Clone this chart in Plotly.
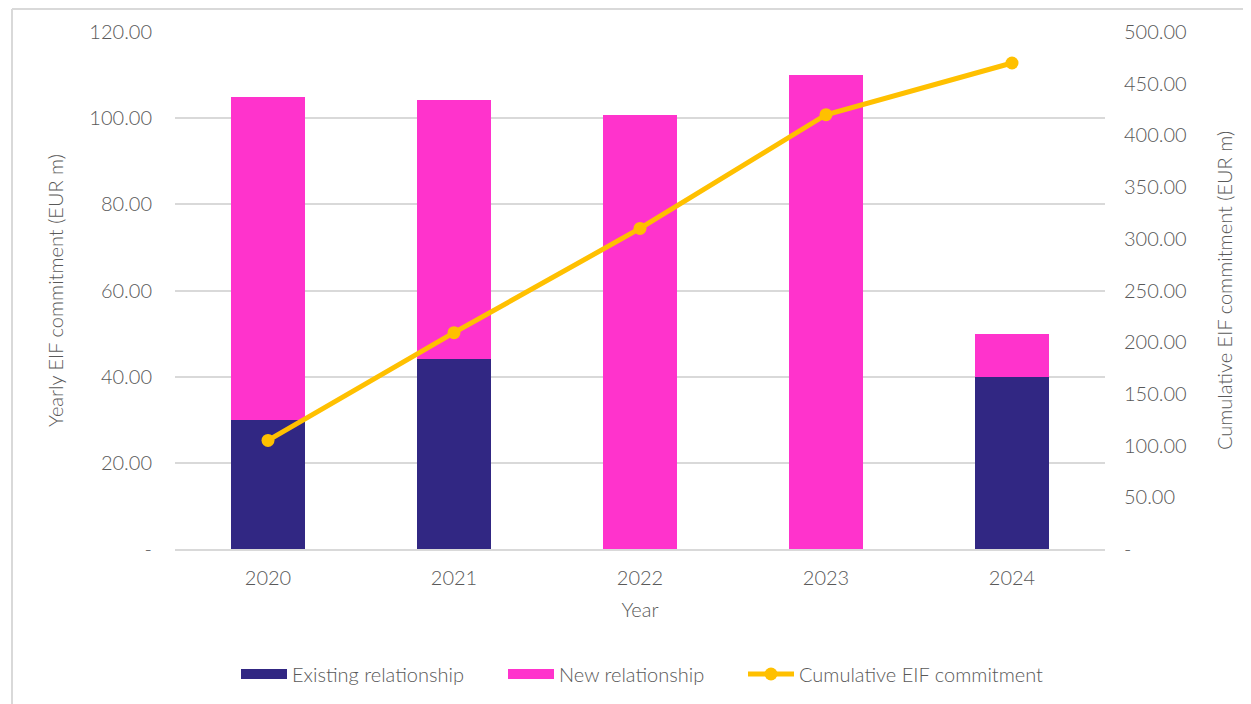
import plotly.graph_objects as go

years = ["2020", "2021", "2022", "2023", "2024"]
existing = [30.0, 44.2, 0.0, 0.0, 40.0]
new_rel = [75.0, 60.0, 100.8, 110.0, 10.0]
cumulative = [105.0, 209.2, 310.0, 420.0, 470.0]

left_ticks = [0, 20, 40, 60, 80, 100, 120]
left_text = ["-", "20.00", "40.00", "60.00", "80.00", "100.00", "120.00"]
right_ticks = [0, 50, 100, 150, 200, 250, 300, 350, 400, 450, 500]
right_text = ["-", "50.00", "100.00", "150.00", "200.00", "250.00", "300.00",
              "350.00", "400.00", "450.00", "500.00"]

FONT = "Lato"
GREY = "#595959"
NAVY = "#312783"
PINK = "#FF33CC"
GOLD = "#FFC000"
FS = 20

OFF = 8  # body margin of the page
W, H = 1251 - OFF, 704 - OFF
# plot area in page pixels: x 175..1105, y 32..550
L, T = 175 - OFF, 32 - OFF
R = W - (1105 - OFF)
B = H - (550 - OFF)
pw, ph = W - L - R, H - T - B

def px(x):
    return (x - OFF - L) / pw

def py(y):
    return 1 - (y - OFF - T) / ph

fig = go.Figure()
fig.add_trace(go.Bar(x=years, y=existing, name="Existing relationship",
                     marker=dict(color=NAVY, line=dict(width=0)), width=0.4,
                     showlegend=False))
fig.add_trace(go.Bar(x=years, y=new_rel, name="New relationship",
                     marker=dict(color=PINK, line=dict(width=0)), width=0.4,
                     showlegend=False))
# legend entries with wide rectangular swatches
fig.add_trace(go.Scatter(x=[None], y=[None], mode="lines", name="Existing relationship",
                         line=dict(color=NAVY, width=13), legend="legend"))
fig.add_trace(go.Scatter(x=[None], y=[None], mode="lines", name="New relationship",
                         line=dict(color=PINK, width=13), legend="legend2"))
fig.add_trace(go.Scatter(x=years, y=cumulative, name="Cumulative EIF commitment",
                         yaxis="y2", mode="lines+markers",
                         line=dict(color=GOLD, width=5),
                         marker=dict(color=GOLD, size=13), legend="legend3"))

def leg(xpage):
    return dict(orientation="h", x=px(xpage), xanchor="left", y=py(674), yanchor="middle",
                font=dict(size=FS, color=GREY, weight=300), itemwidth=46,
                bgcolor="rgba(0,0,0,0)")

fig.update_layout(
    width=W, height=H,
    barmode="stack",
    plot_bgcolor="white", paper_bgcolor="white",
    margin=dict(l=L, r=R, t=T, b=B),
    font=dict(family=FONT, color=GREY, size=FS, weight=300),
    xaxis=dict(title=dict(text="Year", font=dict(size=FS, color=GREY, weight=300), standoff=15),
               tickfont=dict(size=FS, color=GREY, weight=300), showgrid=False,
               showline=True, linecolor="#d9d9d9", linewidth=1.5,
               ticks="", ticklabelstandoff=10),
    yaxis=dict(title=dict(text="Yearly EIF commitment (EUR m)", font=dict(size=FS, color=GREY, weight=300), standoff=20),
               range=[0, 120], tickvals=left_ticks, ticktext=left_text,
               tickfont=dict(size=FS, color=GREY, weight=300),
               showgrid=True, gridcolor="#d9d9d9", gridwidth=1.5,
               zeroline=False, showline=False, ticks="", ticklabelstandoff=22),
    yaxis2=dict(title=dict(text="Cumulative EIF commitment (EUR m)", font=dict(size=FS, color=GREY, weight=300), standoff=32),
                range=[0, 500], tickvals=right_ticks, ticktext=right_text,
                tickfont=dict(size=FS, color=GREY, weight=300),
                overlaying="y", side="right", showgrid=False, zeroline=False,
                showline=False, ticks="", ticklabelstandoff=18),
    legend=leg(236),
    legend2=leg(503),
    legend3=leg(743),
    shapes=[
        dict(type="line", xref="paper", yref="paper", x0=px(12), x1=px(1270),
             y0=py(9), y1=py(9), line=dict(color="#d9d9d9", width=2)),
        dict(type="line", xref="paper", yref="paper", x0=px(12), x1=px(12),
             y0=py(9), y1=py(720), line=dict(color="#d9d9d9", width=2)),
    ],
)

fig.write_html("out.html")
